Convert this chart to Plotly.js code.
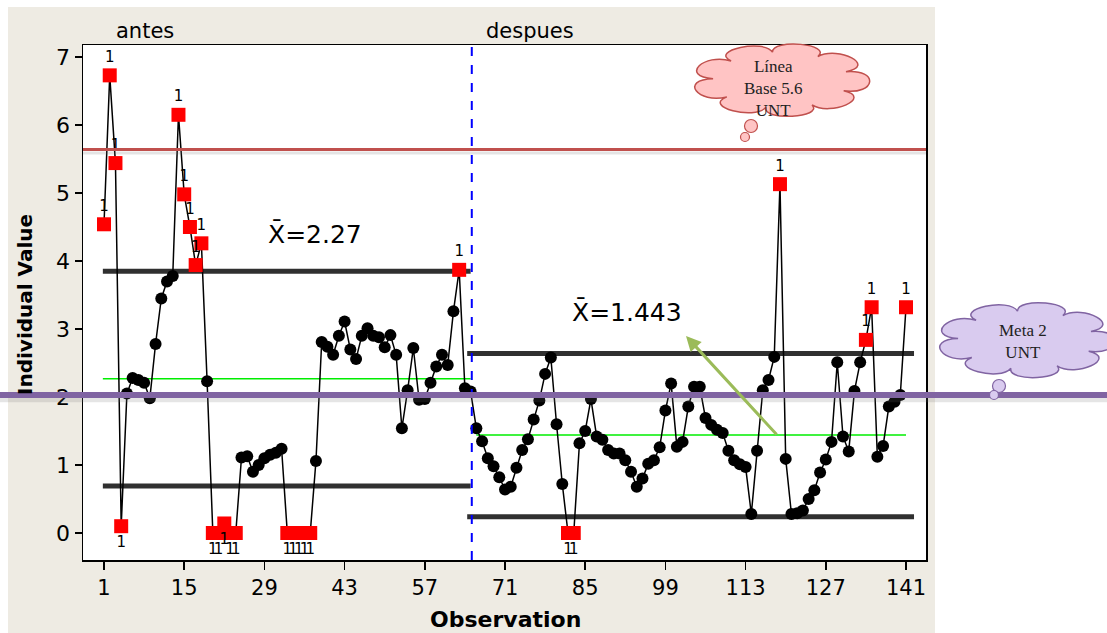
<!DOCTYPE html>
<html><head><meta charset="utf-8">
<script src="https://cdn.plot.ly/plotly-3.0.1.min.js"></script>
<style>html,body{margin:0;padding:0;background:#fff}#chart{width:1107px;height:633px}</style>
</head><body><div id="chart"></div>
<script>
// ---------- data ----------
const values = [
  4.54,6.73,5.44,0.10,2.05,2.28,2.25,2.21,1.98,2.78,
  3.45,3.70,3.78,6.15,4.98,4.50,3.94,4.26,2.23,0.00,
  0.00,0.14,0.00,0.00,1.11,1.13,0.90,1.00,1.10,1.15,
  1.18,1.24,0.00,0.00,0.00,0.00,0.00,1.06,2.81,2.74,
  2.62,2.90,3.11,2.70,2.56,2.90,3.01,2.90,2.88,2.73,
  2.91,2.62,1.54,2.10,2.72,1.96,1.97,2.21,2.45,2.62,
  2.47,3.26,3.87,2.13,2.08,
  1.54,1.35,1.10,0.98,0.82,
  0.64,0.68,0.96,1.22,1.38,1.67,1.95,2.34,2.58,1.60,
  0.72,0.00,0.00,1.32,1.50,1.97,1.42,1.37,1.22,1.17,
  1.17,1.07,0.90,0.68,0.80,1.02,1.07,1.26,1.80,2.20,
  1.27,1.34,1.86,2.15,2.15,1.69,1.59,1.52,1.47,1.21,
  1.07,1.01,0.97,0.28,1.21,2.10,2.25,2.59,5.13,1.09,
  0.28,0.29,0.33,0.50,0.63,0.89,1.08,1.34,2.51,1.42,
  1.20,2.09,2.51,2.84,3.32,1.12,1.28,1.86,1.93,2.03,
  3.32
];
const flagged = [1,2,3,4,14,15,16,17,18,20,21,22,23,24,33,34,35,36,37,63,82,83,119,134,135,141];
const stageNames = ['antes','despues'];
const stageLastObs = [65, 141];
const centerLines = [2.27, 1.443];
const upperLimits = [3.85, 2.64];
const lowerLimits = [0.69, 0.24];
const baseLine = 5.64;   // "Línea Base 5.6 UNT"
const goalLine = 2.03;   // "Meta 2 UNT"
const xTicks = [1,15,29,43,57,71,85,99,113,127,141];
const yTicks = [0,1,2,3,4,5,6,7];
const meanLabels = ['X\u0304=2.27','X\u0304=1.443'];

// ---------- geometry helpers ----------
const W=1107,H=633,L=83,R=181,T=45,B=73;
const pw=W-L-R, ph=H-T-B;
const PX=p=>(p-L)/pw, PY=p=>(H-B-p)/ph;

const obs = values.map((v,i)=>i+1);
const stageOf = n => n<=stageLastObs[0]?0:1;
const isFlag = new Set(flagged);

const FONT='DejaVu Sans';
const traces=[];
const s1x=[0.8,stageLastObs[0]], s2lim=[64.4,142.4], s2c=[66,141];
[[s1x,0],[s2lim,1]].forEach(([xx,k])=>{
  [upperLimits[k],lowerLimits[k]].forEach(v=>{
    traces.push({type:'scatter',mode:'lines',x:xx,y:[v,v],line:{color:'#303030',width:5},hoverinfo:'skip',showlegend:false});
  });
});
[[s1x,0],[s2c,1]].forEach(([xx,k])=>{
  traces.push({type:'scatter',mode:'lines',x:xx,y:[centerLines[k],centerLines[k]],line:{color:'#00ee00',width:1.5},hoverinfo:'skip',showlegend:false});
});
traces.push({type:'scatter',mode:'lines',x:obs,y:values,line:{color:'#000',width:1.5},showlegend:false});
const nx=[],ny=[];
obs.forEach((n,i)=>{if(!isFlag.has(n)){nx.push(n);ny.push(values[i]);}});
traces.push({type:'scatter',mode:'markers',x:nx,y:ny,marker:{color:'#000',size:12,symbol:'circle'},showlegend:false});
const fx=[],fy=[],ft=[],fp=[];
flagged.forEach(n=>{const v=values[n-1];fx.push(n);fy.push(v);ft.push('1');
  fp.push(v>centerLines[stageOf(n)]?'top center':'bottom center');});
traces.push({type:'scatter',mode:'markers+text',x:fx,y:fy,text:ft,textposition:fp,
  textfont:{family:FONT,size:15,color:'#000'},cliponaxis:false,
  marker:{color:'#ff0000',size:14,symbol:'square'},showlegend:false});

function cloud(cx,cy,rx,ry,n,off,bul){
  const pts=[];
  for(let i=0;i<=n;i++){pts.push(off+2*Math.PI*i/n);}
  const P=(a,f)=>[PX(cx+rx*f*Math.cos(a)),PY(cy+ry*f*Math.sin(a))];
  const p0=P(pts[0],1);
  let d='M '+p0[0]+' '+p0[1];
  for(let i=0;i<n;i++){
    const a0=pts[i],a1=pts[i+1],da=a1-a0;
    const c1=P(a0+da*0.05,bul),c2=P(a1-da*0.05,bul),e=P(a1,1);
    d+=' C '+c1[0]+' '+c1[1]+', '+c2[0]+' '+c2[1]+', '+e[0]+' '+e[1];
  }
  return d+' Z';
}
function circ(cx,cy,r,fill,line){
  return {type:'circle',xref:'paper',yref:'paper',x0:PX(cx-r),x1:PX(cx+r),y0:PY(cy+r),y1:PY(cy-r),
    fillcolor:fill,line:{color:line,width:1.2}};
}
const pinkF='#ffc4c4',pinkL='#c0504d',purF='#d9cbef',purL='#8064a2';

const shapes=[
  {type:'rect',xref:'paper',yref:'paper',x0:PX(935),x1:PX(W+5),y0:PY(H+5),y1:PY(-5),fillcolor:'#fff',line:{width:0},layer:'below'},
  {type:'rect',xref:'paper',yref:'paper',x0:PX(-5),x1:PX(W+5),y0:PY(7),y1:PY(-5),fillcolor:'#fff',line:{width:0},layer:'below'},
  {type:'rect',xref:'paper',yref:'paper',x0:PX(-5),x1:PX(8),y0:PY(H+5),y1:PY(-5),fillcolor:'#fff',line:{width:0},layer:'below'},
  {type:'line',xref:'x',yref:'paper',x0:65.2,x1:65.2,y0:0,y1:1,line:{color:'#0000ff',width:2,dash:'dash'}},
  {type:'line',xref:'paper',yref:'y',x0:0,x1:1,y0:baseLine-0.05,y1:baseLine-0.05,line:{color:'rgba(120,120,120,0.2)',width:3}},
  {type:'line',xref:'paper',yref:'y',x0:0,x1:1,y0:baseLine,y1:baseLine,line:{color:'#c0504d',width:3}},
  {type:'line',xref:'paper',yref:'y',x0:PX(0),x1:PX(W),y0:goalLine-0.07,y1:goalLine-0.07,line:{color:'rgba(110,110,110,0.18)',width:5}},
  {type:'line',xref:'paper',yref:'y',x0:PX(0),x1:PX(W),y0:goalLine,y1:goalLine,line:{color:'#8064a2',width:6}},
  {type:'path',xref:'paper',yref:'paper',path:cloud(781,80,68,28,9,-0.3,1.5),fillcolor:pinkF,line:{color:pinkL,width:1.5}},
  circ(751,126,6.5,pinkF,pinkL),circ(745,137,4.5,pinkF,pinkL),
  {type:'path',xref:'paper',yref:'paper',path:cloud(1026,340,68,29,9,-0.3,1.5),fillcolor:purF,line:{color:purL,width:1.5}},
  circ(999,386,6.5,purF,purL),circ(994,395,4.5,purF,purL)
];

const A=(x,y,text,font,extra)=>Object.assign({xref:'paper',yref:'paper',x:PX(x),y:PY(y),text:text,showarrow:false,
  xanchor:'center',yanchor:'middle',font:font},extra||{});
const ann=[
  A(145,31,stageNames[0],{family:FONT,size:21,color:'#000'}),
  A(530,31,stageNames[1],{family:FONT,size:21,color:'#000'}),
  A(315,234,meanLabels[0],{family:FONT,size:25,color:'#000'}),
  A(627,312,meanLabels[1],{family:FONT,size:25,color:'#000'}),
  A(25,305,'<b>Individual Value</b>',{family:FONT,size:20,color:'#000'},{textangle:-90}),
  A(505,619,'<b>Observation</b>',{family:FONT,size:22,color:'#000'}),
  {xref:'paper',yref:'paper',x:PX(686),y:PY(336),ax:92,ay:100,text:'',showarrow:true,arrowhead:2,arrowsize:1,arrowwidth:3,arrowcolor:'#9bbb59'},
  A(773,88,'Línea<br>Base 5.6<br>UNT',{family:'Liberation Serif',size:17,color:'#222'}),
  A(1023,342,'Meta 2<br>UNT',{family:'Liberation Serif',size:17,color:'#222'})
];

const layout={
  width:W,height:H,margin:{l:L,r:R,t:T,b:B},
  paper_bgcolor:'#eeebe3',plot_bgcolor:'#ffffff',
  showlegend:false,
  xaxis:{range:[1-21/5.7286,1+822/5.7286],tickmode:'array',tickvals:xTicks,ticktext:xTicks.map(String),
    ticks:'outside',ticklen:8,tickwidth:1.5,tickcolor:'#000',showgrid:false,zeroline:false,
    showline:true,mirror:true,linecolor:'#000',linewidth:1.5,tickfont:{family:FONT,size:21,color:'#000'}},
  yaxis:{range:[-27/68,488/68],tickmode:'array',tickvals:yTicks,ticktext:yTicks.map(String),
    ticks:'outside',ticklen:7,tickwidth:1.5,tickcolor:'#000',showgrid:false,zeroline:false,
    showline:true,mirror:true,linecolor:'#000',linewidth:1.5,tickfont:{family:FONT,size:22,color:'#000'}},
  shapes:shapes,annotations:ann
};
Plotly.newPlot('chart',traces,layout,{displayModeBar:false,staticPlot:true});
</script></body></html>
